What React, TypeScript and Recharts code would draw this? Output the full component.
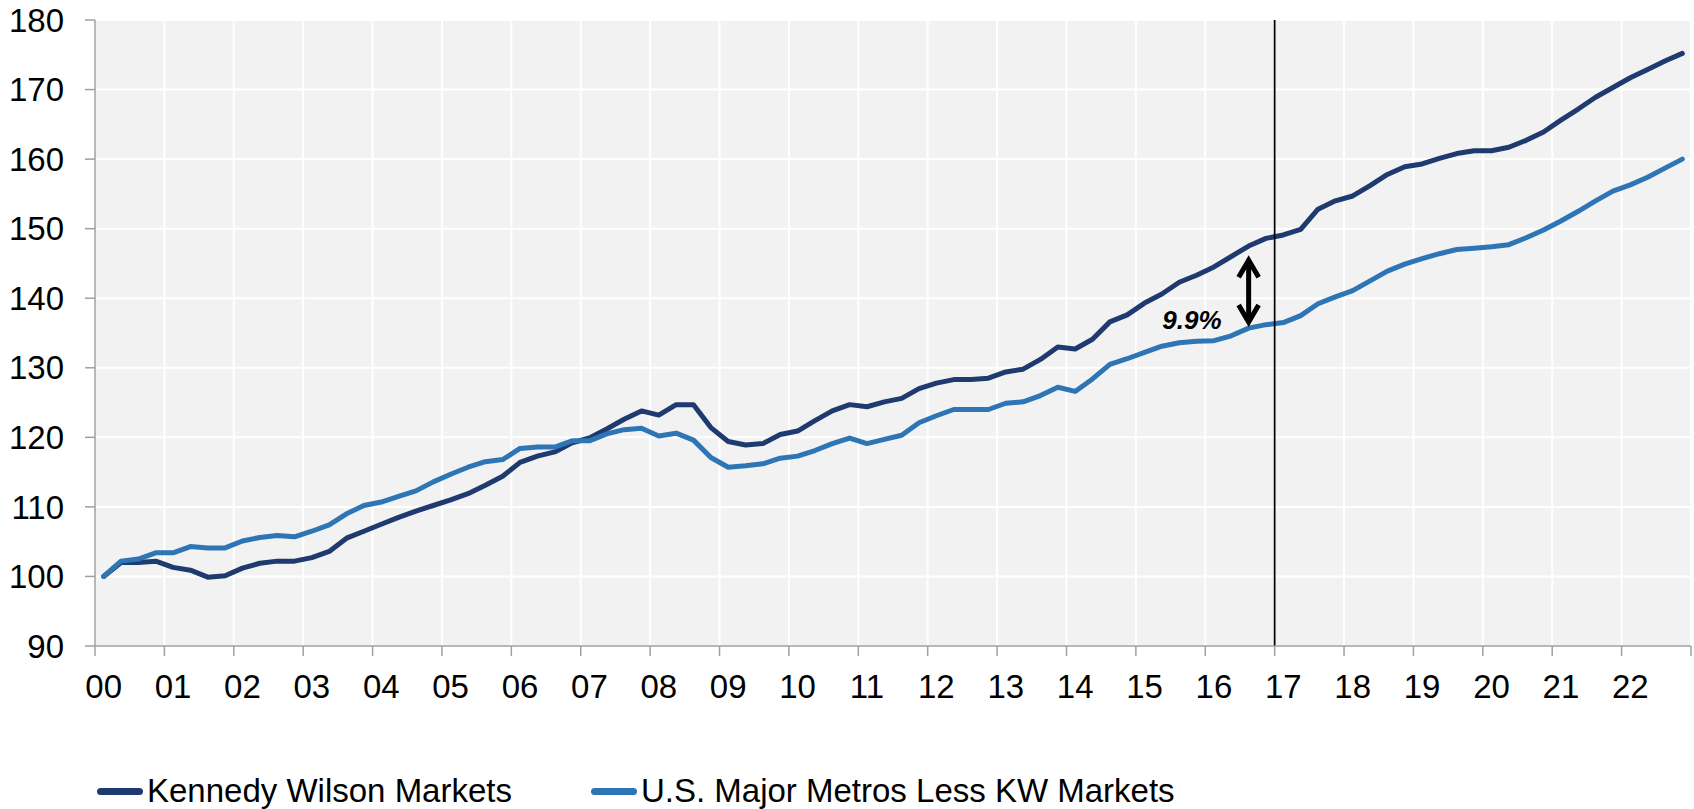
import { LineChart, Line, XAxis, YAxis, CartesianGrid, ReferenceLine, Legend } from 'recharts';

// quarterly index, 2000 Q1 = 100
const yearLabels = [
  '00', '01', '02', '03', '04', '05', '06', '07', '08', '09', '10', '11',
  '12', '13', '14', '15', '16', '17', '18', '19', '20', '21', '22',
];

const kwMarkets = [
  100, 102.0, 102.0, 102.2, 101.3, 100.9, 99.9, 100.1, 101.2, 101.9, 102.2, 102.2,
  102.7, 103.6, 105.5, 106.5, 107.5, 108.5, 109.4, 110.2, 111.0, 111.9, 113.1, 114.4,
  116.4, 117.3, 117.9, 119.2, 119.9, 121.2, 122.6, 123.8, 123.2, 124.7, 124.7, 121.4,
  119.4, 118.9, 119.1, 120.4, 120.9, 122.4, 123.8, 124.7, 124.4, 125.1, 125.6, 127.0,
  127.8, 128.3, 128.3, 128.5, 129.4, 129.8, 131.2, 133.0, 132.7, 134.1, 136.6, 137.6,
  139.3, 140.6, 142.3, 143.3, 144.5, 146.0, 147.5, 148.6, 149.1, 149.9, 152.8, 154.0,
  154.7, 156.2, 157.8, 158.9, 159.3, 160.1, 160.8, 161.2, 161.2, 161.7, 162.7, 163.9,
  165.6, 167.2, 168.9, 170.3, 171.7, 172.9, 174.1, 175.2,
];

const usMetros = [
  100, 102.2, 102.5, 103.4, 103.4, 104.3, 104.1, 104.1, 105.1, 105.6, 105.9, 105.7,
  106.5, 107.4, 109.0, 110.2, 110.7, 111.5, 112.3, 113.6, 114.7, 115.7, 116.5, 116.8,
  118.4, 118.6, 118.6, 119.5, 119.5, 120.5, 121.1, 121.3, 120.2, 120.6, 119.6, 117.1,
  115.7, 115.9, 116.2, 117.0, 117.3, 118.1, 119.1, 119.9, 119.1, 119.7, 120.3, 122.1,
  123.1, 124.0, 124.0, 124.0, 124.9, 125.1, 126.0, 127.2, 126.6, 128.4, 130.5, 131.3,
  132.2, 133.1, 133.6, 133.8, 133.9, 134.6, 135.7, 136.2, 136.5, 137.5, 139.2, 140.2,
  141.1, 142.5, 143.9, 144.9, 145.7, 146.4, 147.0, 147.2, 147.4, 147.7, 148.7, 149.8,
  151.1, 152.5, 154.0, 155.4, 156.3, 157.4, 158.7, 160.0,
];

const yTicks = [90, 100, 110, 120, 130, 140, 150, 160, 170, 180];

// annotation: gap between the two series, 2016 Q3
const gapQuarter = 66;
const gapRange = [145.9, 136.15];
const gapLabel = '9.9%';
const markerQuarter = 68; // 2017 Q1

const KW_COLOR = '#1F3A6E';
const US_COLOR = '#2E75B6';
const AXIS_COLOR = '#A0A0A0';
const FONT = '"Liberation Sans", Arial, sans-serif';
const FONT_SIZE = 33;

const data = kwMarkets.map((kw, i) => ({ q: i, kw, us: usMetros[i] }));
const domainX: [number, number] = [-0.5, kwMarkets.length - 0.5];
const yearStarts = yearLabels.map((_, k) => k * 4);
const yearBounds = [...yearStarts.map((q) => q - 0.5), kwMarkets.length - 0.5];

function GapArrow(props: any) {
  const { x1, y1, y2 } = props;
  const top = Math.min(y1, y2) + 3;
  const bottom = Math.max(y1, y2) - 3;
  const head = (tipY: number, dir: number) =>
    `${x1 - 10},${tipY + dir * 17} ${x1},${tipY} ${x1 + 10},${tipY + dir * 17}`;
  return (
    <g>
      <line x1={x1} y1={top} x2={x1} y2={bottom} stroke="#000" strokeWidth={5} />
      <polyline points={head(top, 1)} fill="none" stroke="#000" strokeWidth={5} strokeLinejoin="miter" />
      <polyline points={head(bottom, -1)} fill="none" stroke="#000" strokeWidth={5} strokeLinejoin="miter" />
      <text
        x={x1 - 27}
        y={bottom + 7}
        textAnchor="end"
        fontSize={26}
        fontWeight="bold"
        fontStyle="italic"
        fill="#000"
      >
        {gapLabel}
      </text>
    </g>
  );
}

function LegendRow(props: any) {
  const items = props.payload || [];
  return (
    <div style={{ display: 'flex', alignItems: 'center', height: 40, lineHeight: '40px', fontSize: FONT_SIZE, color: '#000', whiteSpace: 'nowrap' }}>
      {items.map((it: any, k: number) => (
        <div key={it.value} style={{ display: 'flex', alignItems: 'center', marginLeft: k ? 79 : 0 }}>
          <span style={{ display: 'inline-block', width: 46, height: 7, borderRadius: 4, background: it.color, marginRight: 4 }} />
          <span>{it.value}</span>
        </div>
      ))}
    </div>
  );
}

export default function App() {
  return (
    <div style={{ position: 'absolute', left: 0, top: 0, fontFamily: FONT, background: '#fff' }}>
      <LineChart width={1694} height={809} data={data} margin={{ top: 20, right: 3, left: 0, bottom: 0 }}>
        <CartesianGrid xAxisId="grid" fill="#F2F2F2" stroke="#FFFFFF" strokeWidth={2} />
        <XAxis
          xAxisId="grid"
          dataKey="q"
          type="number"
          domain={domainX}
          ticks={yearBounds}
          interval={0}
          tickFormatter={() => ''}
          tickSize={10}
          height={10}
          stroke={AXIS_COLOR}
          strokeWidth={1.5}
          tickLine={{ stroke: AXIS_COLOR, strokeWidth: 1.5 }}
        />
        <XAxis
          xAxisId="labels"
          dataKey="q"
          type="number"
          domain={domainX}
          ticks={yearStarts}
          interval={0}
          tickFormatter={(v: number) => yearLabels[v / 4]}
          axisLine={false}
          tickLine={false}
          tickSize={0}
          tickMargin={19}
          height={113}
          tick={{ fill: '#000', fontSize: FONT_SIZE }}
        />
        <YAxis
          domain={[90, 180]}
          ticks={yTicks}
          interval={0}
          width={95}
          tickSize={10}
          tickMargin={21}
          stroke={AXIS_COLOR}
          strokeWidth={1.5}
          tickLine={{ stroke: AXIS_COLOR, strokeWidth: 1.5 }}
          tick={{ fill: '#000', fontSize: FONT_SIZE }}
        />
        <Legend
          verticalAlign="bottom"
          align="left"
          content={<LegendRow />}
          wrapperStyle={{ left: 97, bottom: -2, width: 'auto' }}
        />
        <Line
          xAxisId="grid"
          type="linear"
          dataKey="kw"
          name="Kennedy Wilson Markets"
          stroke={KW_COLOR}
          strokeWidth={5}
          strokeLinejoin="round"
          strokeLinecap="round"
          dot={false}
          activeDot={false}
          isAnimationActive={false}
        />
        <Line
          xAxisId="grid"
          type="linear"
          dataKey="us"
          name="U.S. Major Metros Less KW Markets"
          stroke={US_COLOR}
          strokeWidth={5}
          strokeLinejoin="round"
          strokeLinecap="round"
          dot={false}
          activeDot={false}
          isAnimationActive={false}
        />
        <ReferenceLine xAxisId="grid" x={markerQuarter - 0.5} stroke="#000" strokeWidth={1.75} />
        <ReferenceLine
          xAxisId="grid"
          segment={[
            { x: gapQuarter, y: gapRange[0] },
            { x: gapQuarter, y: gapRange[1] },
          ]}
          shape={GapArrow}
        />
      </LineChart>
    </div>
  );
}
